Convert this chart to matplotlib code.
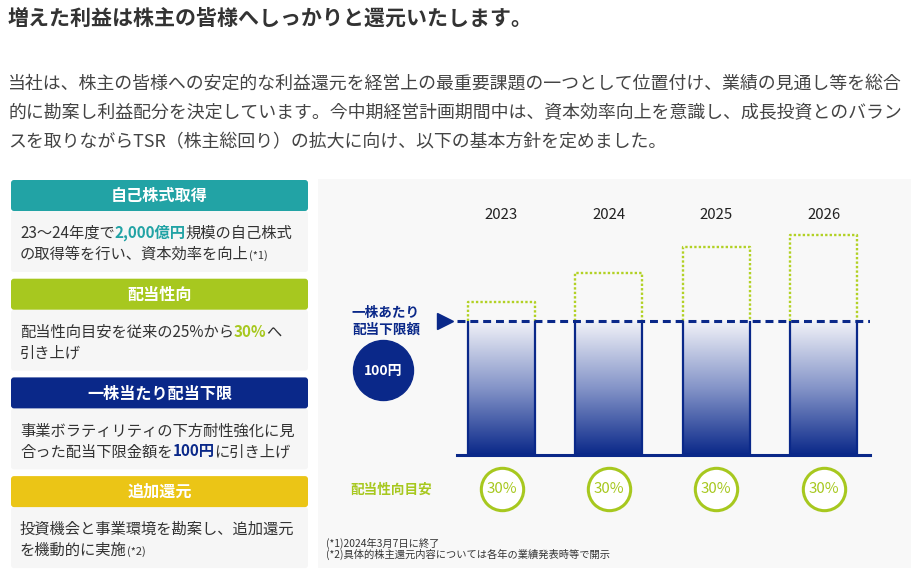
import numpy as np
import matplotlib
matplotlib.use("Agg")
import matplotlib.pyplot as plt
from matplotlib import transforms
from matplotlib.colors import LinearSegmentedColormap
from matplotlib.patches import FancyBboxPatch, Rectangle

plt.rcParams['font.family'] = ['Noto Sans CJK JP', 'DejaVu Sans']

W, H = 911, 572

# ---- content ----
title = '増えた利益は株主の皆様へしっかりと還元いたします。'
intro = [
    '当社は、株主の皆様への安定的な利益還元を経営上の最重要課題の一つとして位置付け、業績の見通し等を総合',
    '的に勘案し利益配分を決定しています。今中期経営計画期間中は、資本効率向上を意識し、成長投資とのバラン',
    'スを取りながらTSR（株主総回り）の拡大に向け、以下の基本方針を定めました。',
]

years = ['2023', '2024', '2025', '2026']
dividend_floor = 100                      # 円 / 株
dividend_level = [114, 136, 155, 164]     # illustrative dividend per share
payout_target = [30, 30, 30, 30]          # %

footnotes = ['(*1)2024年3月7日に終了',
             '(*2)具体的株主還元内容については各年の業績発表時等で開示']

TEAL = '#22a3a5'
LIME = '#a7c81f'
NAVY = '#0a2889'
YELLOW = '#ebc516'
TEXT = '#333333'

panel_titles = ['自己株式取得', '配当性向', '一株当たり配当下限', '追加還元']
panel_colors = [TEAL, LIME, NAVY, YELLOW]
panel_lines = [
    [[('23〜24年度で', TEXT, 'normal'), ('2,000億円', TEAL, 'bold'), ('規模の自己株式', TEXT, 'normal')],
     [('の取得等を行い、資本効率を向上', TEXT, 'normal'), ('(*1)', TEXT, 'small')]],
    [[('配当性向目安を従来の25%から', TEXT, 'normal'), ('30%', LIME, 'bold'), ('へ', TEXT, 'normal')],
     [('引き上げ', TEXT, 'normal')]],
    [[('事業ボラティリティの下方耐性強化に見', TEXT, 'normal')],
     [('合った配当下限金額を', TEXT, 'normal'), ('100円', NAVY, 'bold'), ('に引き上げ', TEXT, 'normal')]],
    [[('投資機会と事業環境を勘案し、追加還元', TEXT, 'normal')],
     [('を機動的に実施', TEXT, 'normal'), ('(*2)', TEXT, 'small')]],
]

fig = plt.figure(figsize=(W / 100, H / 100), dpi=100)
fig.patch.set_facecolor('white')

# background axes in pixel units
bg = fig.add_axes([0, 0, 1, 1])
bg.set_xlim(0, W)
bg.set_ylim(H, 0)
bg.axis('off')
renderer = fig.canvas.get_renderer()


def rich_line(x, y, parts, size):
    for s, color, style in parts:
        fs = size * 0.72 if style == 'small' else size
        t = bg.text(x, y, s, color=color, fontsize=fs,
                    fontweight='bold' if style == 'bold' else 'normal',
                    ha='left', va='baseline')
        bb = t.get_window_extent(renderer=renderer)
        x = bg.transData.inverted().transform((bb.x1, bb.y0))[0]


bg.text(8, 18, title, fontsize=15.1, fontweight='bold', color='#333333',
        ha='left', va='center')
for i, line in enumerate(intro):
    bg.text(8, 84 + i * 29, line, fontsize=12.9, color='#444444',
            ha='left', va='center')

# left panels
for i, (name, col, lines) in enumerate(zip(panel_titles, panel_colors, panel_lines)):
    top = 180 + i * 98.7
    bg.add_patch(FancyBboxPatch((11, top + 31), 297, 61,
                                boxstyle='round,pad=0,rounding_size=3',
                                fc='#f6f6f6', ec='none'))
    bg.add_patch(FancyBboxPatch((11, top), 297, 31,
                                boxstyle='round,pad=0,rounding_size=3',
                                fc=col, ec='none'))
    bg.text(159.5, top + 16, name, fontsize=11.6, fontweight='bold',
            color='white', ha='center', va='center')
    for j, parts in enumerate(lines):
        rich_line(20, top + 58 + j * 21, parts, 11)

# right panel background
bg.add_patch(Rectangle((318, 179), W - 318, 389, fc='#f8f8f8', ec='none'))

# labels left of chart
bg.text(386, 313, '一株あたり', fontsize=9.8, fontweight='bold', color=NAVY,
        ha='center', va='center')
bg.text(386, 330, '配当下限額', fontsize=9.8, fontweight='bold', color=NAVY,
        ha='center', va='center')
bg.scatter([383], [370], s=1866, color=NAVY, zorder=3)
bg.text(383, 371, f'{dividend_floor}円', fontsize=10, fontweight='bold',
        color='white', ha='center', va='center', zorder=4)
bg.text(391, 490, '配当性向目安', fontsize=9.8, fontweight='bold', color=LIME,
        ha='center', va='center')

for i, note in enumerate(footnotes):
    bg.text(326, 543 + i * 11, note, fontsize=7.4, color=TEXT,
            ha='left', va='center')

# ---- chart ----
ax = fig.add_axes([457 / W, 1 - 455 / H, 413 / W, 255 / H])
ax.patch.set_alpha(0)
x = np.arange(len(years))
bar_w = 0.624

grad = np.linspace(0, 1, 256).reshape(-1, 1)
cmap = LinearSegmentedColormap.from_list('floor', ['#f1f2f8', '#8494c8', '#0a2889'])
for xi in x:
    ax.imshow(grad, extent=[xi - bar_w / 2, xi + bar_w / 2, 0, dividend_floor],
              cmap=cmap, aspect='auto', zorder=1)
    ax.vlines([xi - bar_w / 2, xi + bar_w / 2], 0, dividend_floor,
              color=NAVY, lw=1.6, zorder=2)

for xi, lvl in zip(x, dividend_level):
    l, r = xi - bar_w / 2, xi + bar_w / 2
    ax.plot([l, l, r, r], [dividend_floor, lvl, lvl, dividend_floor],
            color='#b2d124', lw=1.7, ls=(0, (1, 0.9)), zorder=2)

ax.axhline(dividend_floor, color=NAVY, lw=2.2, ls=(0, (2.6, 1.6)), zorder=4)
ax.plot([-0.03], [dividend_floor], marker='>', ms=12, color=NAVY,
        transform=transforms.blended_transform_factory(ax.transAxes, ax.transData),
        clip_on=False, zorder=5)

ax.set_xlim(-0.415, 3.433)
ax.set_ylim(0, 190.3)

top_trans = transforms.blended_transform_factory(ax.transData, ax.transAxes)
for xi, yr in zip(x, years):
    ax.text(xi, 0.941, yr, transform=top_trans, ha='center', va='center',
            fontsize=10.8, color='#222222')

ax.scatter(x, [-0.133] * len(x), s=930, facecolors='white', edgecolors=LIME,
           linewidths=2.2, transform=top_trans, clip_on=False, zorder=5)
for xi, p in zip(x, payout_target):
    ax.text(xi, -0.133, f'{p}%', transform=top_trans, ha='center', va='center',
            fontsize=10.8, color=LIME, zorder=6)

for side in ['top', 'left', 'right']:
    ax.spines[side].set_visible(False)
ax.spines['bottom'].set_color(NAVY)
ax.spines['bottom'].set_linewidth(2.2)
ax.set_xticks([])
ax.set_yticks([])

fig.savefig('out.png', dpi=100)
